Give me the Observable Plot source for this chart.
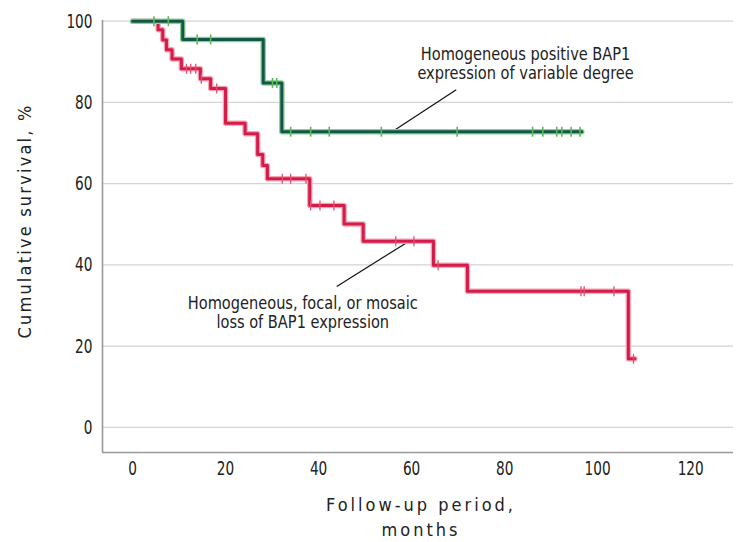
<!DOCTYPE html>
<html>
<head>
<meta charset="utf-8">
<script src="https://cdn.jsdelivr.net/npm/d3@7"></script>
<script src="https://cdn.jsdelivr.net/npm/@observablehq/plot@0.6"></script>
<style>
  body { margin: 0; background: #fff; }
  #chart svg { font-family: "Liberation Sans Narrow", "DejaVu Sans Condensed", sans-serif; }
</style>
</head>
<body>
<div id="chart"></div>
<script>
// Green group: homogeneous positive BAP1 expression
const greenTimes = [0, 10.8, 28.1, 32.1];
const greenSurv  = [100, 95.5, 84.8, 72.8];
const greenEnd = 96.6;
const greenCensored = [4.6, 7.7, 13.9, 16.8, 30.1, 31.0, 34.0, 38.3, 42.3, 53.5, 69.8, 86.0, 88.2, 91.2, 92.3, 94.3, 96.2];

// Red group: homogeneous, focal, or mosaic loss of BAP1
const redTimes = [0, 5.5, 6.5, 7.3, 8.5, 10.5, 14.6, 16.8, 20.0, 24.2, 26.9, 28.0, 29.0, 38.1, 45.5, 49.6, 64.7, 72.0, 106.6];
const redSurv  = [100, 97.9, 95.4, 93.0, 90.7, 88.3, 85.8, 83.4, 74.9, 72.3, 67.2, 64.5, 61.2, 54.6, 50.1, 45.8, 39.9, 33.5, 16.9];
const redEnd = 108;
const redCensored = [11.6, 12.5, 13.6, 14.8, 18.1, 32.2, 34.0, 37.3, 38.3, 40.3, 43.3, 56.6, 60.5, 65.7, 96.4, 97.1, 103.5, 107.7];

const xTicks = [0, 20, 40, 60, 80, 100, 120];
const yTicks = [0, 20, 40, 60, 80, 100];

const greenLabel = ["Homogeneous positive BAP1", "expression of variable degree"];
const redLabel = ["Homogeneous, focal, or mosaic", "loss of BAP1 expression"];

function steps(times, surv, end) {
  const pts = times.map((t, i) => ({t, s: surv[i]}));
  pts.push({t: end, s: surv[surv.length - 1]});
  return pts;
}
function survAt(times, surv, t) {
  let s = surv[0];
  for (let i = 0; i < times.length; i++) if (times[i] <= t) s = surv[i];
  return s;
}
const greenLine = steps(greenTimes, greenSurv, greenEnd);
const redLine = steps(redTimes, redSurv, redEnd);
const greenCens = greenCensored.map(t => ({t, s: survAt(greenTimes, greenSurv, t)}));
const redCens = redCensored.map(t => ({t, s: survAt(redTimes, redSurv, t)}));

const vbar = { draw(ctx, size) { const r = Math.sqrt(size / Math.PI); ctx.moveTo(0, -r); ctx.lineTo(0, r); } };

const xMin = -6.45, xMax = 129.2, yMin = -6.18, yMax = 100.17;

const plot = Plot.plot({
  width: 750,
  height: 542,
  marginLeft: 102,
  marginRight: 17,
  marginTop: 20,
  marginBottom: 90,
  style: { fontFamily: '"Liberation Sans Narrow", "DejaVu Sans Condensed", sans-serif', fontSize: "20px", color: "#222" },
  x: { domain: [xMin, xMax], ticks: xTicks, tickSize: 0, tickPadding: 8, label: null },
  y: { domain: [yMin, yMax], ticks: yTicks, tickSize: 0, tickPadding: 10, label: null },
  marks: [
    Plot.gridY(yTicks, { stroke: "#d4d4d4", strokeOpacity: 1, strokeWidth: 1.3 }),
    Plot.ruleX([xMin], { stroke: "#999", strokeWidth: 1.6 }),
    Plot.ruleY([yMin], { stroke: "#999", strokeWidth: 1.6 }),
    Plot.axisX({ ticks: xTicks, tickSize: 0, tickPadding: 8, fontSize: 20, label: null }),
    Plot.axisY({ ticks: yTicks, tickSize: 0, tickPadding: 10, fontSize: 20, label: null }),
    // annotation pointers
    Plot.link([0], { x1: 55.8, y1: 72.8, x2: 69.6, y2: 83.1, stroke: "#111", strokeWidth: 1.2 }),
    Plot.link([0], { x1: 59.1, y1: 45.6, x2: 43.9, y2: 34.7, stroke: "#111", strokeWidth: 1.2 }),
    // red curve
    Plot.line(redLine, { x: "t", y: "s", curve: "step-after", stroke: "#f2a6b8", strokeWidth: 5.5 }),
    Plot.line(redLine, { x: "t", y: "s", curve: "step-after", stroke: "#d51c49", strokeWidth: 3 }),
    Plot.dot(redCens, { x: "t", y: "s", symbol: vbar, r: 5, stroke: "#e0526f", strokeWidth: 1.3 }),
    // green curve
    Plot.line(greenLine, { x: "t", y: "s", curve: "step-after", stroke: "#8fcf8f", strokeWidth: 5.5 }),
    Plot.line(greenLine, { x: "t", y: "s", curve: "step-after", stroke: "#12584a", strokeWidth: 3 }),
    Plot.dot(greenCens, { x: "t", y: "s", symbol: vbar, r: 5, stroke: "#5cb85c", strokeWidth: 1.6 }),
    // labels
    Plot.text([greenLabel[0]], { x: 84.5, y: 89.6, text: d => d, fontSize: 18, dy: -9.5, fill: "#222", textAnchor: "middle" }),
    Plot.text([greenLabel[1]], { x: 84.5, y: 89.6, text: d => d, fontSize: 18, dy: 9.5, fill: "#222", textAnchor: "middle" }),
    Plot.text([redLabel[0]], { x: 36.6, y: 28.2, text: d => d, fontSize: 18, dy: -9.5, fill: "#222", textAnchor: "middle" }),
    Plot.text([redLabel[1]], { x: 36.6, y: 28.2, text: d => d, fontSize: 18, dy: 9.5, fill: "#222", textAnchor: "middle" })
  ]
});

const svg = d3.select(plot);
// axis titles
svg.append("text").attr("class", "ttl")
  .attr("x", 421).attr("y", 511)
  .attr("text-anchor", "middle")
  .attr("font-size", 18).attr("letter-spacing", "3px").attr("fill", "#222")
  .text("Follow-up period,");
svg.append("text").attr("class", "ttl")
  .attr("x", 421).attr("y", 536)
  .attr("text-anchor", "middle")
  .attr("font-size", 18).attr("letter-spacing", "3px").attr("fill", "#222")
  .text("months");
svg.append("text").attr("class", "ttl")
  .attr("transform", "translate(31,221) rotate(-90)")
  .attr("text-anchor", "middle")
  .attr("font-size", 18).attr("letter-spacing", "2.2px").attr("fill", "#222")
  .text("Cumulative survival, %");

document.getElementById("chart").appendChild(plot);

// condense glyphs horizontally to mimic the narrow typeface of the original
plot.querySelectorAll("text:not(.ttl)").forEach(el => {
  const len = el.getComputedTextLength();
  const k = el.textContent.length <= 3 ? 0.76 : 0.9;
  if (len > 0) {
    el.setAttribute("textLength", (len * k).toFixed(2));
    el.setAttribute("lengthAdjust", "spacingAndGlyphs");
  }
});
</script>
</body>
</html>
